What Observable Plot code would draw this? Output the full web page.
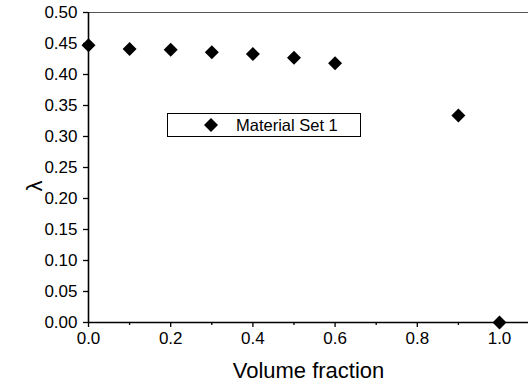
<!DOCTYPE html>
<html>
<head>
<meta charset="utf-8">
<script src="https://cdn.jsdelivr.net/npm/d3@7"></script>
<script src="https://cdn.jsdelivr.net/npm/@observablehq/plot@0.6"></script>
<style>
  html, body { margin: 0; padding: 0; background: #fff; }
  #wrap { position: relative; width: 528px; height: 387px; font-family: "Liberation Sans", Arial, sans-serif; }
  #legend { position: absolute; left: 167px; top: 113px; width: 194px; height: 24px; border: 1px solid #000; box-sizing: border-box; background: #fff; }
  #legend svg { position: absolute; left: 35px; top: 3px; }
  #legend span { position: absolute; left: 68px; top: 2px; font-size: 16.5px; line-height: 18px; color: #000; }
</style>
</head>
<body>
<div id="wrap"></div>
<script>
const volumeFraction = [0.0, 0.1, 0.2, 0.3, 0.4, 0.5, 0.6, 0.9, 1.0];
const lambda = [0.447, 0.441, 0.440, 0.436, 0.433, 0.427, 0.418, 0.334, 0.0];
const xMajorTicks = [0, 0.2, 0.4, 0.6, 0.8, 1.0];
const xMinorTicks = [0.1, 0.3, 0.5, 0.7, 0.9];
const yTicks = [0, 0.05, 0.1, 0.15, 0.2, 0.25, 0.3, 0.35, 0.4, 0.45, 0.5];
const seriesName = "Material Set 1";

const data = volumeFraction.map((v, i) => ({x: v, y: lambda[i]}));

const chart = Plot.plot({
  width: 528,
  height: 387,
  marginLeft: 88,
  marginRight: 0,
  marginTop: 12,
  marginBottom: 65,
  style: {fontFamily: "Liberation Sans, Arial, sans-serif", background: "#fff", color: "#000"},
  x: {domain: [0, 1.0706]},
  y: {domain: [0, 0.5]},
  marks: [
    Plot.ruleY([0.5], {stroke: "#555", strokeWidth: 1}),
    Plot.axisX({ticks: xMinorTicks, tickSize: 3, tickFormat: () => "", strokeWidth: 1.3, label: null}),
    Plot.axisX({ticks: xMajorTicks, tickSize: 5, tickPadding: 4, tickFormat: d3.format(".1f"), strokeWidth: 1.3,
      label: "Volume fraction", labelAnchor: "center", labelArrow: "none", labelOffset: 55}),
    Plot.axisY({ticks: yTicks, tickSize: 5, tickPadding: 6, tickFormat: d3.format(".2f"), strokeWidth: 1.3, label: null}),
    Plot.ruleX([0], {stroke: "#000", strokeWidth: 1.6}),
    Plot.ruleY([0], {stroke: "#000", strokeWidth: 1.6}),
    Plot.dot(data, {x: "x", y: "y", symbol: "diamond2", r: 6.3, fill: "#000", stroke: "none", clip: false})
  ]
});

const wrap = document.getElementById("wrap");
wrap.appendChild(chart);

const svg = d3.select(chart);
svg.selectAll("[aria-label='x-axis tick label'] text, [aria-label='y-axis tick label'] text")
  .style("font-size", "17px").style("fill", "#000");
svg.selectAll("[aria-label='x-axis label'] text")
  .style("font-size", "22px").style("fill", "#000");
svg.append("text")
  .attr("transform", "translate(42,186) rotate(-90)")
  .attr("text-anchor", "middle")
  .style("font-size", "22px")
  .style("font-family", "Liberation Sans, Arial, sans-serif")
  .style("fill", "#000")
  .text("λ");

const legend = document.createElement("div");
legend.id = "legend";
legend.innerHTML = `<svg width="16" height="16"><path d="${d3.symbol(d3.symbolDiamond2, 125)()}" transform="translate(8,8)" fill="#000"/></svg><span>${seriesName}</span>`;
wrap.appendChild(legend);
</script>
</body>
</html>
